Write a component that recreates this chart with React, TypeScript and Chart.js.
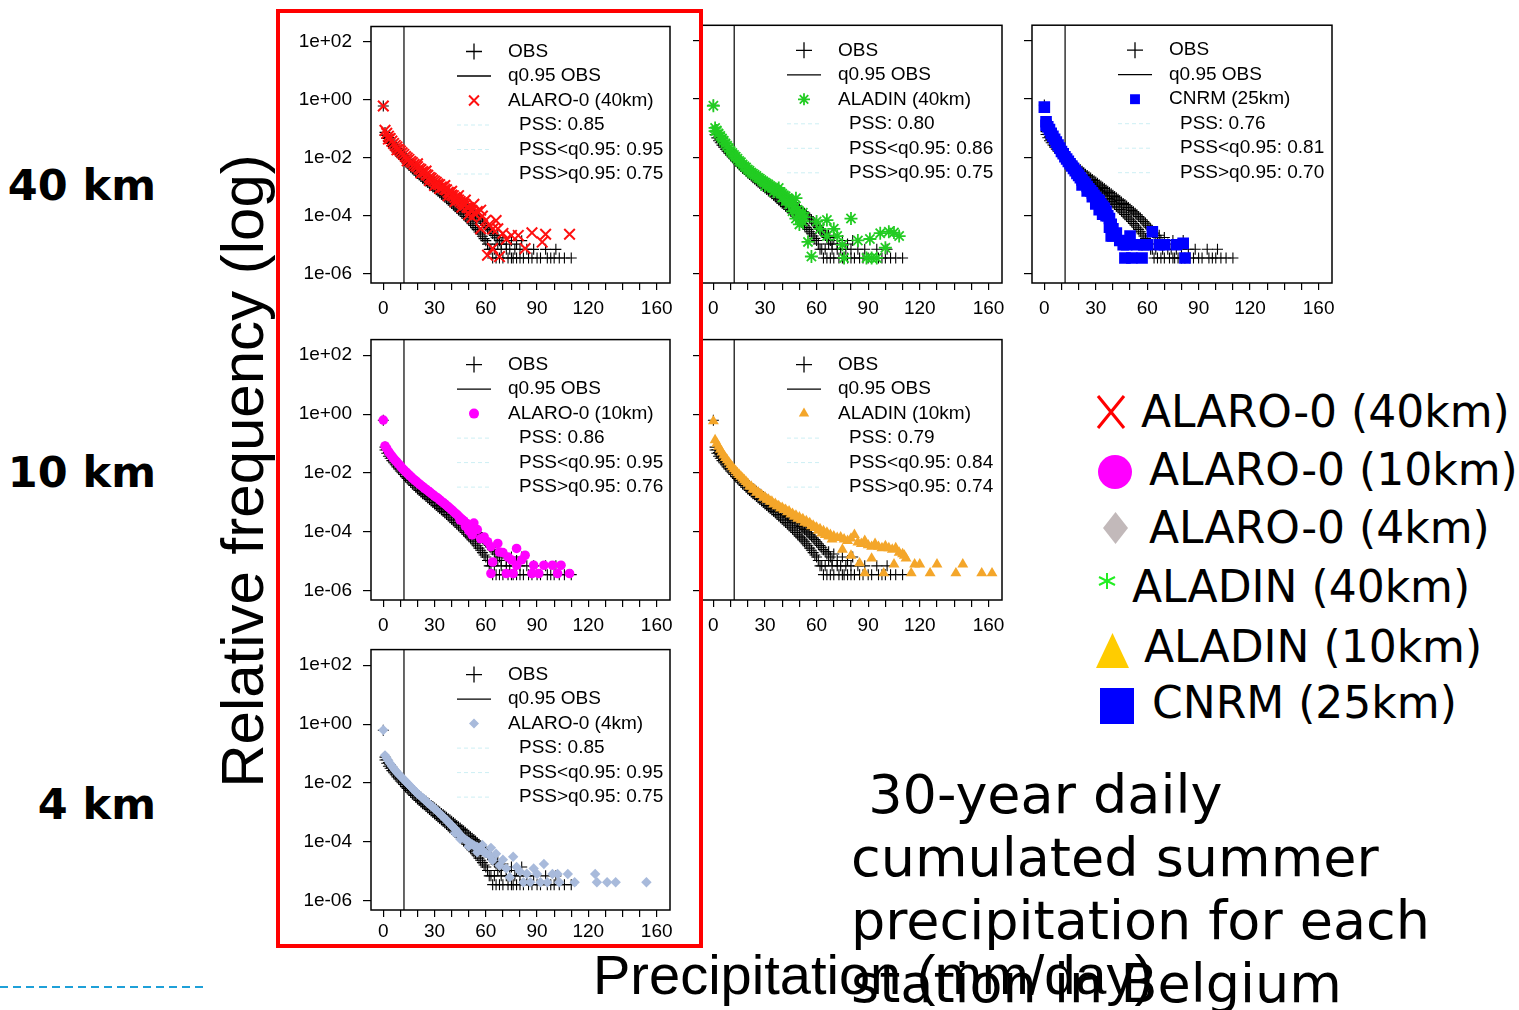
import React, { useEffect, useRef } from 'react';
import { Chart, registerables } from 'chart.js';
import { drawPoint } from 'chart.js/helpers';

Chart.register(...registerables);

const SANS = '"Liberation Sans", Arial, Helvetica, sans-serif';
const DEJAVU = '"DejaVu Sans", Verdana, sans-serif';

// ---------- axes ----------
const xTickValues = [0, 10, 20, 30, 40, 50, 60, 70, 80, 90, 100, 110, 120, 130, 140, 150, 160];
const xTickLabels = ['0', '', '', '30', '', '', '60', '', '', '90', '', '', '120', '', '', '', '160'];
const yTickValues = [1e-6, 1e-4, 1e-2, 1, 100];
const yTickLabels = ['1e-06', '1e-04', '1e-02', '1e+00', '1e+02'];
const xRange = [-7.2, 167.8];
const yRange = [4.9e-7, 339];
const q95Obs = 12.1;

// ---------- data: [precipitation mm/day, log10(relative frequency)] ----------
const obsPoints: [number, number][] = [
  [0, -0.21],
  [1, -1.12], [1, -1.22], [2, -1.21], [2, -1.33], [3, -1.3], [3, -1.43], [4, -1.38], [4, -1.5], [5, -1.46], [5, -1.58],
  [6, -1.53], [6, -1.65], [7, -1.6], [7, -1.72], [8, -1.67], [8, -1.79], [9, -1.73], [9, -1.86], [10, -1.8], [10, -1.93],
  [11, -1.86], [11, -1.99], [12, -1.93], [12, -2.05], [13, -1.99], [13, -2.12], [14, -2.05], [14, -2.18], [15, -2.11], [15, -2.25],
  [16, -2.16], [16, -2.31], [17, -2.22], [17, -2.37], [18, -2.27], [18, -2.42], [19, -2.33], [19, -2.48], [20, -2.38], [20, -2.54],
  [21, -2.43], [21, -2.59], [22, -2.48], [22, -2.64], [23, -2.53], [23, -2.7], [24, -2.58], [24, -2.74], [25, -2.62], [25, -2.8],
  [26, -2.67], [26, -2.85], [27, -2.71], [27, -2.9], [28, -2.76], [28, -2.95], [29, -2.8], [29, -3.0], [30, -2.85], [30, -3.05],
  [31, -2.89], [31, -3.1], [32, -2.94], [32, -3.15], [33, -2.98], [33, -3.2], [34, -3.03], [34, -3.25], [35, -3.07], [35, -3.3],
  [36, -3.12], [36, -3.35], [37, -3.16], [37, -3.41], [38, -3.21], [38, -3.46], [39, -3.25], [39, -3.52], [40, -3.3], [40, -3.57],
  [41, -3.34], [41, -3.62], [42, -3.39], [42, -3.68], [43, -3.44], [43, -3.73], [44, -3.48], [44, -3.79], [45, -3.53], [45, -3.84],
  [46, -3.58], [46, -3.9], [47, -3.62], [47, -3.96], [48, -3.67], [48, -4.02], [49, -3.72], [49, -4.08], [50, -3.77], [50, -4.14],
  [51, -3.82], [51, -4.2], [52, -3.87], [52, -4.27], [53, -3.92], [53, -4.33], [54, -3.97], [54, -4.4], [55, -4.03], [55, -4.47],
  [56, -4.08], [56, -4.55], [57, -4.14], [57, -4.62], [58, -4.2], [58, -4.7], [59, -4.26], [59, -4.78], [60, -4.33], [60, -4.85],
  [61, -4.4], [61, -4.97], [62, -4.46], [62, -5.15], [63, -4.52], [63, -5.15], [64, -4.6], [64, -5.45], [65, -4.67], [65, -5.15],
  [66, -4.75], [66, -5.45], [67, -4.67], [67, -4.97], [68, -4.85], [68, -5.45], [69, -4.97], [69, -5.15], [70, -4.75], [70, -5.45],
  [72, -5.15], [72, -4.97], [73, -5.45], [74, -5.15], [75, -4.85], [75, -5.45], [76, -5.45], [77, -5.15], [78, -4.97], [78, -5.45],
  [80, -5.15], [80, -5.45], [81, -4.85], [82, -5.45], [84, -5.15], [85, -5.45], [87, -5.45], [88, -5.15], [90, -5.45], [92, -5.45],
  [95, -5.15], [96, -5.45], [98, -5.45], [100, -5.45], [101, -5.15], [103, -5.45], [106, -5.45], [110, -5.45],
];

const alaro40Points: [number, number][] = [
  [0, -0.21], [1, -1.05], [2, -1.15], [3, -1.25], [3, -1.35], [4, -1.33], [5, -1.42], [6, -1.5], [7, -1.57], [8, -1.62], [8, -1.72],
  [9, -1.7], [10, -1.76], [11, -1.82], [12, -1.88], [13, -1.95], [14, -2.0], [14, -2.1], [15, -2.05], [16, -2.12], [17, -2.16],
  [18, -2.22], [19, -2.27], [20, -2.3], [20, -2.2], [21, -2.37], [22, -2.4], [22, -2.52], [23, -2.47], [24, -2.5], [25, -2.57],
  [25, -2.45], [26, -2.6], [27, -2.67], [27, -2.78], [28, -2.7], [29, -2.76], [30, -2.8], [30, -2.95], [31, -2.84], [32, -2.9],
  [33, -2.92], [33, -3.05], [34, -3.0], [35, -3.02], [36, -3.08], [36, -2.95], [37, -3.1], [38, -3.18], [38, -3.3], [39, -3.2],
  [40, -3.28], [40, -3.15], [41, -3.3], [42, -3.36], [42, -3.5], [43, -3.4], [44, -3.45], [44, -3.3], [45, -3.5], [46, -3.55],
  [46, -3.7], [47, -3.58], [48, -3.62], [48, -3.45], [49, -3.7], [50, -3.72], [50, -3.95], [51, -3.8], [52, -3.82], [52, -4.05],
  [53, -3.9], [53, -3.6], [54, -3.95], [55, -3.85], [57, -3.8], [58, -4.0], [57, -4.44], [60, -4.15], [62, -4.3], [64, -4.45],
  [66, -4.16], [67, -4.44], [61, -5.35], [64, -5.12], [68, -5.4], [70, -4.6], [72, -4.8], [75, -4.67], [79, -4.67], [83, -5.12],
  [87, -4.58], [93, -4.9], [95, -4.63], [109, -4.63],
];

const aladin40Points: [number, number][] = [
  [0, -0.23], [1, -0.99], [1, -1.1], [2, -1.08], [3, -1.18], [4, -1.27], [5, -1.35], [6, -1.43], [7, -1.52], [8, -1.6], [9, -1.68],
  [10, -1.78], [11, -1.85], [12, -1.92], [13, -1.98], [14, -2.05], [15, -2.12], [16, -2.17], [17, -2.24], [18, -2.3], [19, -2.35],
  [20, -2.42], [21, -2.46], [22, -2.52], [23, -2.56], [24, -2.6], [25, -2.64], [26, -2.7], [27, -2.73], [28, -2.78], [29, -2.82],
  [30, -2.86], [30, -2.98], [31, -2.9], [32, -2.93], [33, -2.98], [34, -3.02], [35, -3.05], [35, -3.18], [36, -3.1], [37, -3.13],
  [38, -3.18], [38, -3.05], [39, -3.2], [40, -3.25], [40, -3.38], [41, -3.3], [42, -3.33], [42, -3.5], [43, -3.4], [44, -3.45],
  [44, -3.62], [45, -3.5], [46, -3.6], [46, -3.85], [47, -3.7], [48, -3.4], [48, -4.1], [49, -3.8], [50, -3.9], [50, -4.3],
  [51, -4.0], [52, -4.2], [52, -3.9], [53, -4.05], [55, -4.9], [57, -5.4], [60, -4.2], [62, -4.45], [66, -4.15], [66, -4.7],
  [70, -4.45], [72, -4.7], [75, -5.0], [76, -5.45], [80, -4.1], [84, -4.85], [89, -5.45], [91, -4.8], [92, -5.45], [95, -5.45],
  [97, -4.6], [100, -5.1], [102, -4.55], [105, -4.58], [108, -4.7],
];

const cnrm25Points: [number, number][] = [
  [0, -0.28], [1, -0.78], [1, -0.9], [2, -0.95], [3, -1.05], [4, -1.18], [5, -1.28], [6, -1.38], [7, -1.48], [8, -1.58], [9, -1.68],
  [10, -1.8], [11, -1.88], [12, -1.98], [13, -2.06], [14, -2.14], [15, -2.22], [16, -2.3], [17, -2.38], [18, -2.46], [19, -2.55],
  [20, -2.62], [21, -2.7], [22, -2.78], [22, -2.95], [23, -2.85], [24, -2.92], [25, -3.0], [25, -3.15], [26, -3.08], [27, -3.15],
  [28, -3.22], [28, -3.35], [29, -3.3], [30, -3.38], [30, -3.6], [31, -3.45], [32, -3.5], [32, -3.8], [33, -3.6], [34, -3.68],
  [34, -3.95], [35, -3.75], [36, -3.85], [36, -4.0], [37, -4.0], [38, -4.1], [38, -4.4], [39, -4.3], [39, -4.7], [40, -4.45],
  [40, -4.7], [42, -4.6], [44, -4.85], [46, -5.0], [47, -5.45], [48, -5.0], [50, -4.7], [51, -5.45], [54, -5.0], [57, -5.45],
  [58, -5.0], [60, -5.0], [63, -4.55], [67, -5.0], [70, -5.0], [77, -5.0], [81, -4.95], [82, -5.45],
];

const alaro10Points: [number, number][] = [
  [0, -0.2], [1, -1.08], [2, -1.17], [3, -1.27], [4, -1.35], [5, -1.43], [6, -1.5], [7, -1.57], [8, -1.63], [9, -1.7], [10, -1.76],
  [11, -1.83], [12, -1.89], [13, -1.95], [14, -2.0], [15, -2.06], [16, -2.11], [17, -2.17], [18, -2.22], [19, -2.27], [20, -2.32],
  [21, -2.37], [22, -2.42], [23, -2.46], [24, -2.51], [25, -2.55], [26, -2.6], [27, -2.64], [28, -2.69], [29, -2.73], [30, -2.78],
  [31, -2.82], [32, -2.86], [33, -2.91], [34, -2.96], [35, -3.0], [36, -3.05], [37, -3.1], [38, -3.15], [39, -3.2], [40, -3.25],
  [41, -3.3], [42, -3.36], [43, -3.4], [44, -3.46], [45, -3.52], [45, -3.6], [46, -3.57], [47, -3.62], [48, -3.68], [48, -3.8],
  [49, -3.72], [50, -3.78], [50, -3.95], [51, -3.85], [52, -3.88], [52, -4.1], [53, -3.95], [53, -3.7], [55, -3.92], [57, -4.23],
  [59, -4.17], [61, -4.33], [63, -4.5], [64, -5.02], [63, -5.41], [67, -4.39], [68, -4.68], [70, -4.7], [72, -5.41], [73, -4.85],
  [75, -4.95], [76, -5.41], [78, -4.56], [78, -5.13], [81, -4.95], [83, -4.79], [87, -5.41], [88, -5.13], [91, -5.41], [94, -5.13],
  [99, -5.13], [102, -5.41], [104, -5.13], [109, -5.41],
];

const aladin10Points: [number, number][] = [
  [0, -0.24], [1, -0.88], [2, -1.0], [3, -1.1], [4, -1.2], [5, -1.3], [6, -1.4], [7, -1.48], [8, -1.56], [9, -1.64], [10, -1.72],
  [11, -1.8], [12, -1.87], [13, -1.93], [14, -2.0], [15, -2.06], [16, -2.12], [17, -2.18], [18, -2.24], [19, -2.3], [20, -2.36],
  [21, -2.45], [22, -2.46], [23, -2.55], [24, -2.56], [25, -2.66], [26, -2.65], [27, -2.74], [28, -2.74], [29, -2.83], [30, -2.82],
  [31, -2.9], [32, -2.9], [33, -2.97], [34, -2.97], [35, -3.06], [36, -3.04], [37, -3.12], [38, -3.12], [39, -3.2], [40, -3.18],
  [41, -3.25], [42, -3.25], [43, -3.33], [44, -3.3], [45, -3.4], [46, -3.38], [47, -3.48], [48, -3.44], [49, -3.55], [50, -3.5],
  [51, -3.6], [52, -3.56], [53, -3.68], [54, -3.63], [55, -3.72], [56, -3.7], [57, -3.8], [58, -3.78], [59, -3.86], [60, -3.85],
  [61, -3.95], [62, -3.9], [63, -4.05], [64, -3.97], [65, -4.1], [66, -4.02], [67, -4.15], [68, -4.1], [69, -4.25], [70, -4.15],
  [72, -4.2], [74, -4.18], [75, -4.6], [76, -4.25], [78, -4.3], [80, -4.22], [80, -4.8], [82, -4.1], [84, -4.35], [85, -5.06],
  [86, -4.4], [88, -4.3], [88, -5.4], [90, -4.45], [92, -4.5], [92, -4.9], [94, -4.4], [96, -4.5], [98, -4.55], [99, -5.4],
  [100, -4.48], [102, -4.55], [104, -4.6], [105, -5.1], [106, -4.55], [108, -4.7], [110, -4.75], [111, -4.8], [112, -4.9],
  [115, -5.4], [117, -5.1], [120, -5.1], [126, -5.4], [130, -5.1], [141, -5.4], [145, -5.1], [156, -5.4], [162, -5.4],
];

const alaro4Points: [number, number][] = [
  [0, -0.2], [1, -1.06], [2, -1.16], [3, -1.25], [4, -1.34], [5, -1.42], [6, -1.5], [7, -1.57], [8, -1.64], [9, -1.7], [10, -1.76],
  [11, -1.82], [12, -1.88], [13, -1.94], [14, -2.0], [15, -2.06], [16, -2.12], [17, -2.18], [18, -2.24], [19, -2.3], [20, -2.36],
  [21, -2.41], [22, -2.46], [23, -2.51], [24, -2.56], [25, -2.62], [26, -2.67], [27, -2.72], [28, -2.77], [29, -2.82], [30, -2.87],
  [31, -2.92], [32, -2.98], [33, -3.03], [34, -3.09], [35, -3.15], [36, -3.2], [37, -3.26], [38, -3.32], [39, -3.38], [40, -3.44],
  [41, -3.5], [42, -3.56], [42, -3.7], [43, -3.62], [44, -3.7], [45, -3.77], [45, -3.9], [46, -3.82], [47, -3.88], [48, -3.92],
  [49, -3.96], [50, -4.0], [50, -4.15], [51, -4.05], [52, -4.08], [53, -4.12], [54, -4.15], [55, -4.17], [55, -4.35], [56, -4.22],
  [57, -4.25], [58, -4.3], [58, -4.1], [59, -4.35], [60, -4.38], [62, -4.45], [63, -4.2], [64, -4.62], [66, -4.4], [68, -4.8],
  [70, -4.6], [72, -4.9], [74, -5.2], [76, -4.5], [78, -4.85], [80, -5.0], [82, -5.37], [84, -5.08], [86, -5.37], [88, -4.9],
  [90, -5.09], [92, -5.37], [94, -4.75], [96, -5.37], [99, -5.09], [102, -5.09], [103, -5.37], [108, -5.09], [112, -5.37],
  [124, -5.09], [125, -5.37], [131, -5.37], [136, -5.37], [154, -5.37],
];

const legendObsLabel = 'OBS';
const legendQ95Label = 'q0.95 OBS';
const pssLabels = ['PSS: ', 'PSS<q0.95: ', 'PSS>q0.95: '];

const pssAlaro40 = ['0.85', '0.95', '0.75'];
const pssAladin40 = ['0.80', '0.86', '0.75'];
const pssCnrm25 = ['0.76', '0.81', '0.70'];
const pssAlaro10 = ['0.86', '0.95', '0.76'];
const pssAladin10 = ['0.79', '0.84', '0.74'];
const pssAlaro4 = ['0.85', '0.95', '0.75'];

const bigLegendLabels = ['ALARO-0 (40km)', 'ALARO-0 (10km)', 'ALARO-0 (4km)', 'ALADIN (40km)', 'ALADIN (10km)', 'CNRM (25km)'];
const rowLabels = ['40 km', '10 km', '4 km'];
const noteLines = [' 30-year daily', 'cumulated summer', 'precipitation for each', 'station in Belgium'];

// ---------- styles ----------
type Style = { pointStyle: any; radius: number; legendRadius: number; color: string; borderWidth: number };
const stAlaro40: Style = { pointStyle: 'crossRot', radius: 7.5, legendRadius: 7, color: '#ff1010', borderWidth: 2 };
const stAladin40: Style = { pointStyle: 'star', radius: 6.5, legendRadius: 6, color: '#22cc22', borderWidth: 1.8 };
const stCnrm25: Style = { pointStyle: 'rect', radius: 8.2, legendRadius: 7, color: '#0000ff', borderWidth: 0 };
const stAlaro10: Style = { pointStyle: 'circle', radius: 4.8, legendRadius: 5, color: '#ff00ff', borderWidth: 0 };
const stAladin10: Style = { pointStyle: 'triangle', radius: 6.3, legendRadius: 6, color: '#f4a62a', borderWidth: 0 };
const stAlaro4: Style = { pointStyle: 'rectRot', radius: 5.2, legendRadius: 5, color: '#a8badb', borderWidth: 0 };

type PanelCfg = {
  l: number; t: number; w: number; h: number; yLabels: boolean; xPad: number;
  label: string; pts: [number, number][]; pss: string[]; st: Style;
};

const PANELS: PanelCfg[] = [
  { l: 371, t: 23, w: 299, h: 260, yLabels: true, xPad: 7, label: 'ALARO-0 (40km)', pts: alaro40Points, pss: pssAlaro40, st: stAlaro40 },
  { l: 701, t: 23, w: 301, h: 260, yLabels: false, xPad: 7, label: 'ALADIN (40km)', pts: aladin40Points, pss: pssAladin40, st: stAladin40 },
  { l: 1032, t: 23, w: 300, h: 260, yLabels: false, xPad: 7, label: 'CNRM (25km)', pts: cnrm25Points, pss: pssCnrm25, st: stCnrm25 },
  { l: 371, t: 339, w: 299, h: 261, yLabels: true, xPad: 7, label: 'ALARO-0 (10km)', pts: alaro10Points, pss: pssAlaro10, st: stAlaro10 },
  { l: 701, t: 339, w: 301, h: 261, yLabels: false, xPad: 7, label: 'ALADIN (10km)', pts: aladin10Points, pss: pssAladin10, st: stAladin10 },
  { l: 371, t: 649, w: 299, h: 261, yLabels: true, xPad: 3, label: 'ALARO-0 (4km)', pts: alaro4Points, pss: pssAlaro4, st: stAlaro4 },
];

const toXY = (arr: [number, number][]) => arr.map(([x, l]) => ({ x, y: Math.pow(10, l) }));

const PLOT_FONT = 19;

function Panel({ cfg }: { cfg: PanelCfg }) {
  const ref = useRef<HTMLCanvasElement>(null);
  const yW = cfg.yLabels ? 90 : 14;
  const padTop = 6;
  const padRight = 20;
  const xH = 46;
  const W = yW + cfg.w + padRight;
  const H = padTop + cfg.h + xH;

  useEffect(() => {
    const st = cfg.st;
    const decor = {
      id: 'panelDecor',
      afterDraw(chart: any) {
        const { ctx, chartArea: a } = chart;
        ctx.save();
        ctx.strokeStyle = '#000';
        ctx.lineWidth = 1.5;
        ctx.strokeRect(a.left, a.top, a.right - a.left, a.bottom - a.top);
        const lx = a.left + 137;
        const sx = a.left + 103;
        const rowY = (i: number) => a.top + 25 + i * 24.5;
        ctx.font = `${PLOT_FONT}px ${SANS}`;
        ctx.textBaseline = 'middle';
        ctx.textAlign = 'left';
        // OBS
        ctx.strokeStyle = '#000';
        ctx.lineWidth = 1.3;
        drawPoint(ctx, { pointStyle: 'cross', radius: 8, borderWidth: 1.3, rotation: 0 } as any, sx, rowY(0));
        ctx.fillStyle = '#000';
        ctx.fillText(legendObsLabel, lx, rowY(0));
        // q0.95 line
        ctx.beginPath();
        ctx.moveTo(sx - 17, rowY(1));
        ctx.lineTo(sx + 17, rowY(1));
        ctx.stroke();
        ctx.fillText(legendQ95Label, lx, rowY(1));
        // model
        ctx.fillStyle = st.color;
        ctx.strokeStyle = st.color;
        ctx.lineWidth = st.borderWidth;
        drawPoint(ctx, { pointStyle: st.pointStyle, radius: st.legendRadius, borderWidth: st.borderWidth, rotation: 0 } as any, sx, rowY(2));
        ctx.fillStyle = '#000';
        ctx.fillText(cfg.label, lx, rowY(2));
        // PSS rows
        for (let i = 0; i < 3; i++) {
          ctx.save();
          ctx.strokeStyle = '#cdeff4';
          ctx.lineWidth = 1;
          ctx.setLineDash([4, 3]);
          ctx.beginPath();
          ctx.moveTo(sx - 17, rowY(3 + i));
          ctx.lineTo(sx + 17, rowY(3 + i));
          ctx.stroke();
          ctx.restore();
          ctx.fillStyle = '#000';
          ctx.fillText(pssLabels[i] + cfg.pss[i], lx + 11, rowY(3 + i));
        }
        ctx.restore();
      },
    };

    const chart = new Chart(ref.current as HTMLCanvasElement, {
      type: 'scatter',
      data: {
        datasets: [
          {
            label: cfg.label,
            data: toXY(cfg.pts),
            pointStyle: st.pointStyle,
            pointRadius: st.radius,
            pointBackgroundColor: st.color,
            pointBorderColor: st.color,
            pointBorderWidth: st.borderWidth,
            backgroundColor: st.color,
            borderColor: st.color,
            order: 0,
          } as any,
          {
            label: legendObsLabel,
            data: toXY(obsPoints),
            pointStyle: 'cross',
            pointRadius: 5.5,
            pointBorderColor: '#000',
            pointBorderWidth: 1.1,
            borderColor: '#000',
            order: 1,
          } as any,
          {
            type: 'line',
            label: legendQ95Label,
            data: [{ x: q95Obs, y: yRange[0] }, { x: q95Obs, y: yRange[1] }],
            borderColor: '#000',
            borderWidth: 1.2,
            pointRadius: 0,
            order: 2,
          } as any,
        ],
      },
      options: {
        animation: false,
        responsive: false,
        events: [],
        layout: { padding: { top: padTop, right: padRight, left: 0, bottom: 0 } },
        plugins: { legend: { display: false }, tooltip: { enabled: false } },
        scales: {
          x: {
            type: 'linear',
            position: 'bottom',
            min: xRange[0],
            max: xRange[1],
            afterBuildTicks: (s: any) => { s.ticks = xTickValues.map((v) => ({ value: v })); },
            afterFit: (s: any) => { s.height = xH; s.paddingLeft = 0; s.paddingRight = 0; },
            ticks: {
              autoSkip: false, maxRotation: 0, minRotation: 0, padding: cfg.xPad, color: '#000',
              font: { family: SANS, size: PLOT_FONT },
              callback: (v: any) => { const i = xTickValues.indexOf(Number(v)); return i >= 0 ? xTickLabels[i] : ''; },
            },
            grid: { drawOnChartArea: false, drawTicks: true, tickLength: 7, color: '#000', lineWidth: 1.2 },
            border: { display: false },
          },
          y: {
            type: 'logarithmic',
            position: 'left',
            min: yRange[0],
            max: yRange[1],
            afterBuildTicks: (s: any) => { s.ticks = yTickValues.map((v) => ({ value: v })); },
            afterFit: (s: any) => { s.width = yW; s.paddingTop = 0; s.paddingBottom = 0; },
            ticks: {
              autoSkip: false, padding: 11, color: '#000',
              font: { family: SANS, size: PLOT_FONT },
              callback: (v: any) => {
                if (!cfg.yLabels) return '';
                const i = yTickValues.findIndex((t) => Math.abs(Math.log10(t) - Math.log10(Number(v))) < 1e-6);
                return i >= 0 ? yTickLabels[i] : '';
              },
            },
            grid: { drawOnChartArea: false, drawTicks: true, tickLength: 8, color: '#000', lineWidth: 1.2 },
            border: { display: false },
          },
        },
      } as any,
      plugins: [decor],
    });
    return () => chart.destroy();
  }, []);

  return (
    <canvas
      ref={ref}
      width={W}
      height={H}
      style={{ position: 'absolute', left: cfg.l - yW, top: cfg.t - padTop, width: W, height: H }}
    />
  );
}

const rowLabelCY = [184, 471, 803];
const bigLegendPos = [
  { left: 1141, cy: 412 },
  { left: 1149, cy: 470 },
  { left: 1149, cy: 528 },
  { left: 1132, cy: 587 },
  { left: 1144, cy: 647 },
  { left: 1152, cy: 703 },
];
const noteTops = [768, 831, 894, 957];

export default function App() {
  return (
    <div style={{ position: 'absolute', left: 0, top: 0, width: 1519, height: 1010, overflow: 'hidden', background: '#fff' }}>
      {PANELS.map((p, i) => <Panel key={i} cfg={p} />)}

      {rowLabels.map((t, i) => (
        <div key={t} style={{ position: 'absolute', left: 0, width: 156, top: rowLabelCY[i] - 24, height: 50, lineHeight: '50px', textAlign: 'right', fontFamily: DEJAVU, fontWeight: 'bold', fontSize: 43, color: '#000', whiteSpace: 'nowrap' }}>{t}</div>
      ))}

      <div style={{ position: 'absolute', left: 243, top: 471, transform: 'translate(-50%, -50%) rotate(-90deg)', whiteSpace: 'nowrap', fontFamily: SANS, fontSize: 60, lineHeight: '60px', color: '#000' }}>
        Relative frequency (log)
      </div>

      <div style={{ position: 'absolute', left: 593, top: 947, whiteSpace: 'nowrap', fontFamily: SANS, fontSize: 56, lineHeight: '56px', color: '#000' }}>
        Precipitation (mm/day)
      </div>

      {noteLines.map((t, i) => (
        <div key={i} style={{ position: 'absolute', left: 851, top: noteTops[i], whiteSpace: 'pre', fontFamily: DEJAVU, fontSize: 54, lineHeight: '54px', color: '#000' }}>{t}</div>
      ))}

      {bigLegendLabels.map((t, i) => (
        <div key={t} style={{ position: 'absolute', left: bigLegendPos[i].left, top: bigLegendPos[i].cy - 25, height: 50, lineHeight: '50px', whiteSpace: 'nowrap', fontFamily: DEJAVU, fontSize: 44, color: '#000' }}>{t}</div>
      ))}

      <svg style={{ position: 'absolute', left: 1090, top: 380 }} width={60} height={350}>
        <line x1={8} y1={16} x2={34} y2={48} stroke="#ff0000" strokeWidth={3} />
        <line x1={34} y1={16} x2={8} y2={48} stroke="#ff0000" strokeWidth={3} />
        <circle cx={25} cy={92} r={17} fill="#ff00ff" />
        <polygon points="25.5,132 38,148 25.5,164 13,148" fill="#c2b9ba" />
        <g stroke="#22ee22" strokeWidth={2}>
          <line x1={17} y1={193} x2={17} y2={209} />
          <line x1={9} y1={197} x2={25} y2={205} />
          <line x1={9} y1={205} x2={25} y2={197} />
        </g>
        <polygon points="6,288 39,288 22.5,253" fill="#ffcc00" />
        <rect x={10} y={308} width={34} height={36} fill="#0000ff" />
      </svg>

      <svg style={{ position: 'absolute', left: 0, top: 982 }} width={205} height={10}>
        <line x1={0} y1={5} x2={205} y2={5} stroke="#1ea0d8" strokeWidth={2} strokeDasharray="8 5" />
      </svg>

      <div style={{ position: 'absolute', left: 276, top: 9, width: 427, height: 939, border: '4px solid #ff0000', boxSizing: 'border-box' }} />
    </div>
  );
}
